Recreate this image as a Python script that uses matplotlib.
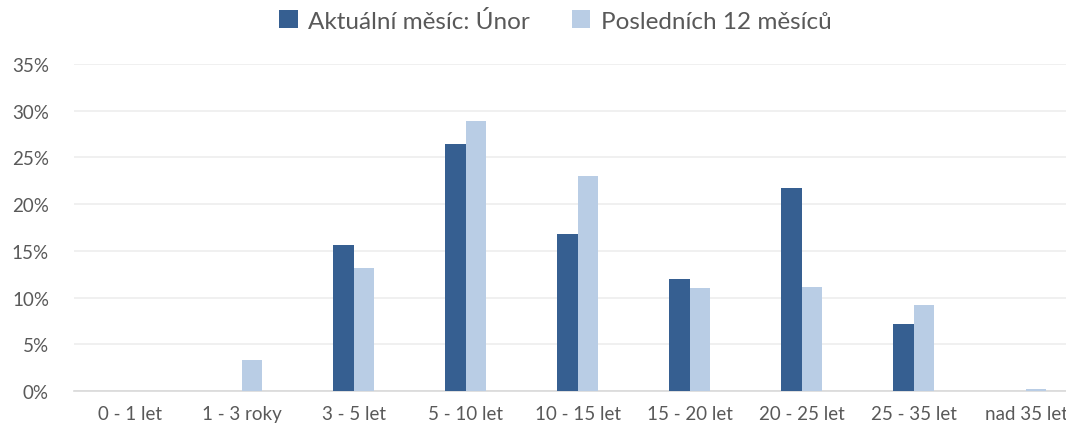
import numpy as np
import matplotlib.pyplot as plt
from matplotlib.ticker import FuncFormatter

# data (percent)
categories = ['0 - 1 let', '1 - 3 roky', '3 - 5 let', '5 - 10 let', '10 - 15 let',
              '15 - 20 let', '20 - 25 let', '25 - 35 let', 'nad 35 let']
current = [0, 0, 15.6, 26.4, 16.8, 12.0, 21.7, 7.2, 0]
last12 = [0, 3.3, 13.2, 28.9, 23.0, 11.0, 11.1, 9.2, 0.2]
series_names = ['Aktuální měsíc: Únor', 'Posledních 12 měsíců']

plt.rcParams['font.family'] = ['Lato', 'DejaVu Sans']

fig = plt.figure(figsize=(10.66, 4.31), dpi=100)
ax = fig.add_axes([0.0694, 0.0905, 0.9456, 0.7587])

x = np.arange(len(categories))
w = 0.183
b1 = ax.bar(x - w/2, current, w, color='#365F91', label=series_names[0], zorder=3)
b2 = ax.bar(x + w/2, last12, w, color='#B9CDE5', label=series_names[1], zorder=3)

ax.set_xlim(-0.5, len(categories) - 0.5)
ax.set_ylim(0, 35)
ax.set_yticks(np.arange(0, 36, 5))
ax.yaxis.set_major_formatter(FuncFormatter(lambda v, p: '%d%%' % v))
ax.set_xticks(x)
ax.set_xticklabels(categories)
ax.grid(axis='y', color='#EDEDED', linewidth=1.2, zorder=0)
for s in ['top', 'right', 'left']:
    ax.spines[s].set_visible(False)
ax.spines['bottom'].set_color('#D9D9D9')
ax.spines['bottom'].set_linewidth(1.2)
ax.tick_params(axis='both', length=0, labelsize=13.5, labelcolor='#595959')
ax.tick_params(axis='y', pad=18)
ax.tick_params(axis='x', pad=10)

fig.legend(handles=[b1, b2], loc='center', bbox_to_anchor=(0.521, 0.95), ncol=2,
           frameon=False, fontsize=17.5, labelcolor='#595959', handlelength=0.75,
           handleheight=0.75, handletextpad=0.45, columnspacing=1.7)

plt.savefig('out.png')
